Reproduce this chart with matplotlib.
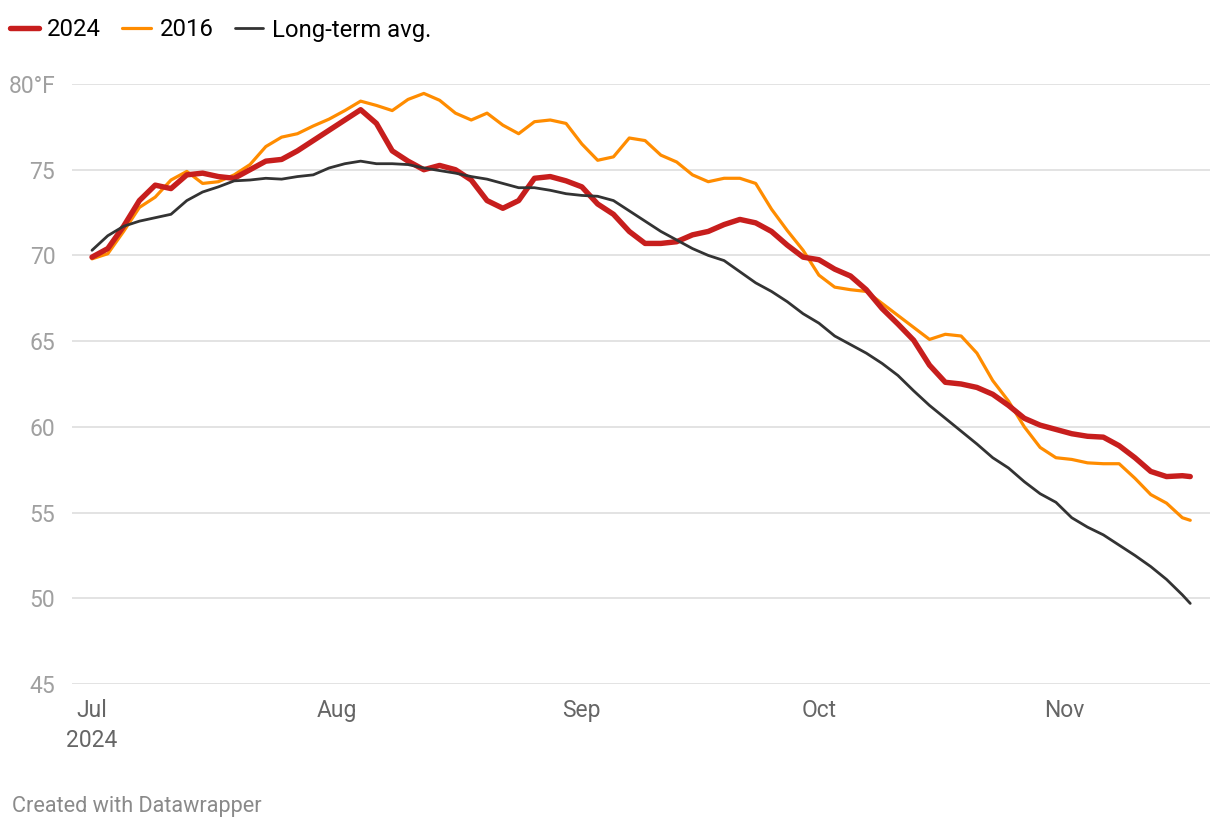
import pandas as pd
import matplotlib
matplotlib.use("Agg")
import matplotlib.pyplot as plt

# dias cada 2 dias desde el 1 de julio, mas el ultimo dato (17 nov)
fechas = list(pd.date_range("2024-07-01", "2024-11-16", freq="2D")) + [pd.Timestamp("2024-11-17")]

temp_2024 = [69.9, 70.4, 71.7, 73.2, 74.1, 73.9, 74.7, 74.8, 74.6, 74.5,
             75.0, 75.5, 75.6, 76.1, 76.7, 77.3, 77.9, 78.5, 77.7, 76.1,
             75.5, 75.0, 75.25, 75.0, 74.4, 73.2, 72.75, 73.2, 74.5, 74.6,
             74.35, 74.0, 73.0, 72.4, 71.4, 70.7, 70.7, 70.8, 71.2, 71.4,
             71.8, 72.1, 71.9, 71.4, 70.6, 69.9, 69.75, 69.2, 68.8, 68.0,
             66.9, 66.0, 65.05, 63.6, 62.6, 62.5, 62.3, 61.9, 61.25, 60.5,
             60.1, 59.85, 59.6, 59.45, 59.4, 58.9, 58.2, 57.4, 57.1, 57.15,
             57.1]

temp_2016 = [69.8, 70.1, 71.4, 72.8, 73.4, 74.4, 74.9, 74.2, 74.3, 74.7,
             75.3, 76.35, 76.9, 77.1, 77.55, 77.95, 78.45, 79.0, 78.75, 78.45,
             79.1, 79.45, 79.05, 78.3, 77.9, 78.3, 77.6, 77.1, 77.8, 77.9,
             77.7, 76.5, 75.55, 75.75, 76.85, 76.7, 75.85, 75.45, 74.7, 74.3,
             74.5, 74.5, 74.2, 72.7, 71.45, 70.3, 68.85, 68.15, 68.0, 67.9,
             67.2, 66.5, 65.8, 65.1, 65.4, 65.3, 64.3, 62.7, 61.5, 60.0,
             58.8, 58.2, 58.1, 57.9, 57.85, 57.85, 57.0, 56.05, 55.55, 54.7,
             54.55]

temp_media = [70.3, 71.15, 71.7, 72.0, 72.2, 72.4, 73.2, 73.7, 74.0, 74.35,
              74.4, 74.5, 74.45, 74.6, 74.7, 75.1, 75.35, 75.5, 75.35, 75.35,
              75.3, 75.1, 74.95, 74.8, 74.6, 74.45, 74.2, 73.95, 73.95, 73.8,
              73.6, 73.5, 73.45, 73.2, 72.6, 72.0, 71.4, 70.9, 70.4, 70.0,
              69.7, 69.05, 68.4, 67.9, 67.3, 66.6, 66.05, 65.3, 64.8, 64.3,
              63.7, 63.0, 62.1, 61.25, 60.5, 59.75, 59.0, 58.2, 57.6, 56.8,
              56.1, 55.6, 54.7, 54.15, 53.7, 53.1, 52.5, 51.85, 51.1, 50.2,
              49.7]

ticks_y = [45, 50, 55, 60, 65, 70, 75, 80]
etiquetas_y = ["45", "50", "55", "60", "65", "70", "75", "80°F"]
ticks_x = pd.to_datetime(["2024-07-01", "2024-08-01", "2024-09-01", "2024-10-01", "2024-11-01"])
etiquetas_x = ["Jul\n2024", "Aug", "Sep", "Oct", "Nov"]

plt.rcParams["font.family"] = ["Roboto", "DejaVu Sans"]

fig = plt.figure(figsize=(12.2, 8.3), dpi=100)
ax = fig.add_axes([72 / 1220, 146 / 830, 1138 / 1220, 600 / 830])

l16, = ax.plot(fechas, temp_2016, color="#ff8c00", lw=2.3, zorder=3, solid_capstyle="round", label="2016")
l24, = ax.plot(fechas, temp_2024, color="#c71e1d", lw=3.9, zorder=4, solid_capstyle="round", label="2024")
lma, = ax.plot(fechas, temp_media, color="#333333", lw=2.0, zorder=5, solid_capstyle="round", label="Long-term avg.")

ax.set_ylim(45, 80)
ax.set_xlim(pd.Timestamp("2024-07-01") - pd.Timedelta(days=2.53),
            pd.Timestamp("2024-07-01") + pd.Timedelta(days=141.5))

ax.set_yticks(ticks_y)
ax.set_yticklabels(etiquetas_y)
ax.set_xticks(ticks_x)
ax.set_xticklabels(etiquetas_x, linespacing=1.4)

ax.grid(axis="y", color="#e3e3e3", lw=1.4, zorder=0)
ax.tick_params(axis="y", length=0, pad=12, labelsize=16.5, labelcolor="#a0a0a0")
ax.tick_params(axis="x", length=0, pad=11, labelsize=16.5, labelcolor="#666666")
for s in ax.spines.values():
    s.set_visible(False)

fig.legend(handles=[l24, l16, lma], loc="center left", bbox_to_anchor=(10 / 1220, 1 - 30 / 830),
           ncol=3, frameon=False, fontsize=17.2, handlelength=1.2, handletextpad=0.35,
           columnspacing=0.9, borderpad=0, borderaxespad=0)

fig.text(12 / 1220, 1 - 806 / 830, "Created with Datawrapper", fontsize=15.6, color="#8a8a8a",
         va="center", ha="left")

fig.savefig("out.png", dpi=100)
